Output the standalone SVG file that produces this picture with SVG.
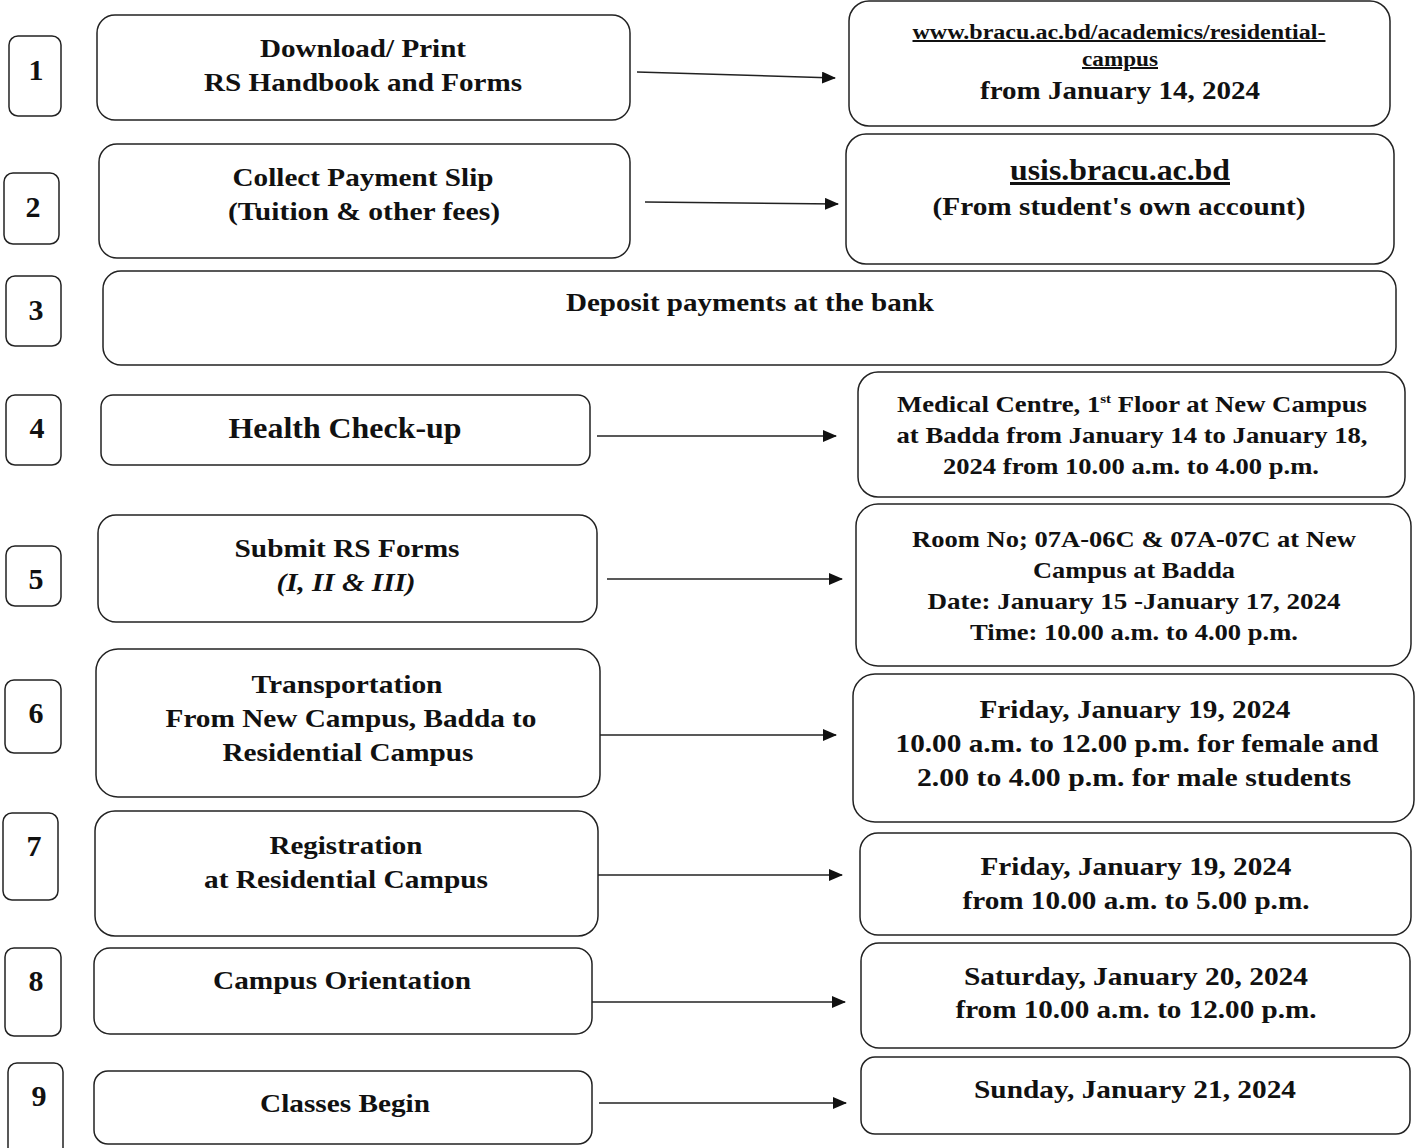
<svg xmlns="http://www.w3.org/2000/svg" width="1424" height="1148" viewBox="0 0 1424 1148">
<style>
rect{fill:#fff;stroke:#222;stroke-width:1.5}
text{font-family:"Liberation Serif","Times New Roman",serif;font-weight:bold;fill:#111;text-anchor:middle}
.n{font-size:30px}
.t{font-size:26px}
.s{font-size:23px}
.u{text-decoration:underline}
.c line{stroke:#222;stroke-width:1.5;marker-end:url(#ah)}
</style>
<defs>
<marker id="ah" viewBox="0 0 14 12" refX="13" refY="6" markerWidth="14" markerHeight="12" markerUnits="userSpaceOnUse" orient="auto"><path d="M0,0 L14,6 L0,12 z" fill="#111"/></marker>
</defs>
<rect x="0" y="0" width="1424" height="1148" style="stroke:none"/>
<g id="num1"><rect x="9" y="36" width="52" height="80" rx="9"/><text class="n" x="36" y="80">1</text></g>
<g id="num2"><rect x="4" y="173" width="55" height="71" rx="9"/><text class="n" x="33" y="217">2</text></g>
<g id="num3"><rect x="6" y="276" width="55" height="70" rx="9"/><text class="n" x="36" y="320">3</text></g>
<g id="num4"><rect x="6" y="395" width="55" height="70" rx="9"/><text class="n" x="37" y="438">4</text></g>
<g id="num5"><rect x="6" y="546" width="55" height="60" rx="9"/><text class="n" x="36" y="589">5</text></g>
<g id="num6"><rect x="5" y="680" width="56" height="73" rx="9"/><text class="n" x="36" y="723">6</text></g>
<g id="num7"><rect x="3" y="813" width="55" height="87" rx="9"/><text class="n" x="34" y="856">7</text></g>
<g id="num8"><rect x="5" y="948" width="56" height="88" rx="9"/><text class="n" x="36" y="991">8</text></g>
<g id="num9"><rect x="8" y="1063" width="55" height="95" rx="9"/><text class="n" x="39" y="1106">9</text></g>

<g id="step1"><rect x="97" y="15" width="533" height="105" rx="18"/>
<text class="t" x="363" y="57" textLength="206" lengthAdjust="spacingAndGlyphs">Download/ Print</text>
<text class="t" x="363" y="91" textLength="318" lengthAdjust="spacingAndGlyphs">RS Handbook and Forms</text></g>
<g id="info1"><rect x="849" y="1" width="541" height="125" rx="20"/>
<text class="u" style="font-size:20px" x="1119" y="39" textLength="413" lengthAdjust="spacingAndGlyphs">www.bracu.ac.bd/academics/residential-</text>
<text class="u" style="font-size:20px" x="1120" y="66" textLength="76" lengthAdjust="spacingAndGlyphs">campus</text>
<text class="t" x="1120" y="99" textLength="280" lengthAdjust="spacingAndGlyphs">from January 14, 2024</text></g>

<g id="step2"><rect x="99" y="144" width="531" height="114" rx="18"/>
<text class="t" x="363" y="186" textLength="261" lengthAdjust="spacingAndGlyphs">Collect Payment Slip</text>
<text class="t" x="364" y="220" textLength="272" lengthAdjust="spacingAndGlyphs">(Tuition &amp; other fees)</text></g>
<g id="info2"><rect x="846" y="134" width="548" height="130" rx="20"/>
<text class="u" style="font-size:30px" x="1120" y="180" textLength="220" lengthAdjust="spacingAndGlyphs">usis.bracu.ac.bd</text>
<text class="t" x="1119" y="215" textLength="373" lengthAdjust="spacingAndGlyphs">(From student's own account)</text></g>

<g id="step3"><rect x="103" y="271" width="1293" height="94" rx="18"/>
<text class="t" x="750" y="311" textLength="368" lengthAdjust="spacingAndGlyphs">Deposit payments at the bank</text></g>

<g id="step4"><rect x="101" y="395" width="489" height="70" rx="12"/>
<text style="font-size:29px" x="345" y="438" textLength="233" lengthAdjust="spacingAndGlyphs">Health Check-up</text></g>
<g id="info4"><rect x="858" y="372" width="547" height="125" rx="20"/>
<text class="s" x="1132" y="412" textLength="470" lengthAdjust="spacingAndGlyphs">Medical Centre, 1<tspan style="font-size:13px" baseline-shift="9">st</tspan> Floor at New Campus</text>
<text class="s" x="1132" y="443" textLength="471" lengthAdjust="spacingAndGlyphs">at Badda from January 14 to January 18,</text>
<text class="s" x="1131" y="474" textLength="376" lengthAdjust="spacingAndGlyphs">2024 from 10.00 a.m. to 4.00 p.m.</text></g>

<g id="step5"><rect x="98" y="515" width="499" height="107" rx="18"/>
<text class="t" x="347" y="557" textLength="225" lengthAdjust="spacingAndGlyphs">Submit RS Forms</text>
<text class="t" style="font-style:italic" x="346" y="591" textLength="139" lengthAdjust="spacingAndGlyphs">(I, II &amp; III)</text></g>
<g id="info5"><rect x="856" y="504" width="555" height="162" rx="22"/>
<text class="s" x="1134" y="547" textLength="444" lengthAdjust="spacingAndGlyphs">Room No; 07A-06C &amp; 07A-07C at New</text>
<text class="s" x="1134" y="578" textLength="202" lengthAdjust="spacingAndGlyphs">Campus at Badda</text>
<text class="s" x="1134" y="609" textLength="413" lengthAdjust="spacingAndGlyphs">Date:  January 15 -January 17, 2024</text>
<text class="s" x="1134" y="640" textLength="328" lengthAdjust="spacingAndGlyphs">Time: 10.00 a.m. to 4.00 p.m.</text></g>

<g id="step6"><rect x="96" y="649" width="504" height="148" rx="22"/>
<text class="t" x="347" y="693" textLength="191" lengthAdjust="spacingAndGlyphs">Transportation</text>
<text class="t" x="351" y="727" textLength="371" lengthAdjust="spacingAndGlyphs">From New Campus, Badda to</text>
<text class="t" x="348" y="761" textLength="251" lengthAdjust="spacingAndGlyphs">Residential Campus</text></g>
<g id="info6"><rect x="853" y="674" width="561" height="148" rx="22"/>
<text class="t" x="1135" y="718" textLength="311" lengthAdjust="spacingAndGlyphs">Friday, January 19, 2024</text>
<text class="t" x="1137" y="752" textLength="483" lengthAdjust="spacingAndGlyphs">10.00 a.m. to 12.00 p.m. for female and</text>
<text class="t" x="1134" y="786" textLength="434" lengthAdjust="spacingAndGlyphs">2.00 to 4.00 p.m. for  male students</text></g>

<g id="step7"><rect x="95" y="811" width="503" height="125" rx="20"/>
<text class="t" x="346" y="854" textLength="153" lengthAdjust="spacingAndGlyphs">Registration</text>
<text class="t" x="346" y="888" textLength="284" lengthAdjust="spacingAndGlyphs">at Residential Campus</text></g>
<g id="info7"><rect x="860" y="833" width="551" height="102" rx="18"/>
<text class="t" x="1136" y="875" textLength="311" lengthAdjust="spacingAndGlyphs">Friday, January 19, 2024</text>
<text class="t" x="1136" y="909" textLength="347" lengthAdjust="spacingAndGlyphs">from 10.00 a.m. to 5.00 p.m.</text></g>

<g id="step8"><rect x="94" y="948" width="498" height="86" rx="16"/>
<text class="t" x="342" y="989" textLength="258" lengthAdjust="spacingAndGlyphs">Campus Orientation</text></g>
<g id="info8"><rect x="861" y="943" width="549" height="105" rx="18"/>
<text class="t" x="1136" y="985" textLength="344" lengthAdjust="spacingAndGlyphs">Saturday, January 20, 2024</text>
<text class="t" x="1136" y="1018" textLength="361" lengthAdjust="spacingAndGlyphs">from 10.00 a.m. to 12.00 p.m.</text></g>

<g id="step9"><rect x="94" y="1071" width="498" height="73" rx="14"/>
<text class="t" x="345" y="1112" textLength="170" lengthAdjust="spacingAndGlyphs">Classes Begin</text></g>
<g id="info9"><rect x="861" y="1057" width="549" height="77" rx="14"/>
<text class="t" x="1135" y="1098" textLength="322" lengthAdjust="spacingAndGlyphs">Sunday, January 21, 2024</text></g>

<g id="connectors" class="c">
<line x1="637" y1="72" x2="835" y2="78"/>
<line x1="645" y1="202" x2="838" y2="204"/>
<line x1="597" y1="436" x2="836" y2="436"/>
<line x1="607" y1="579" x2="842" y2="579"/>
<line x1="600" y1="735" x2="836" y2="735"/>
<line x1="598" y1="875" x2="842" y2="875"/>
<line x1="592" y1="1002" x2="845" y2="1002"/>
<line x1="599" y1="1103" x2="846" y2="1103"/>
</g>
</svg>
